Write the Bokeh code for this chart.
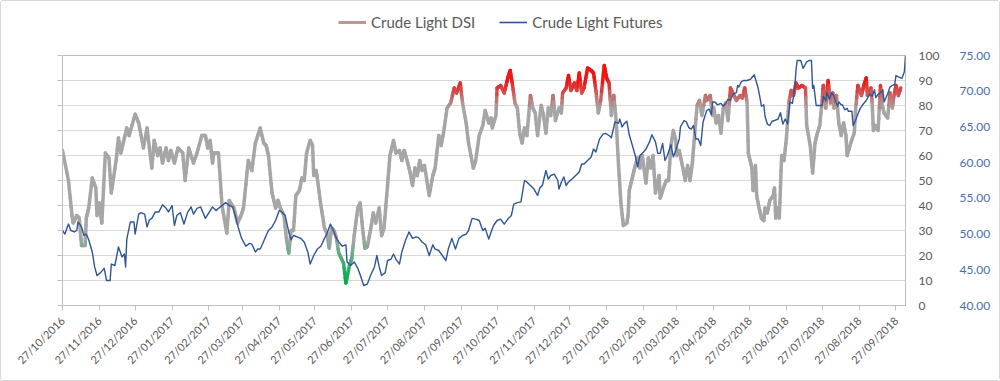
import numpy as np
from datetime import datetime
from math import pi
from bokeh.plotting import figure
from bokeh.layouts import column
from bokeh.models import (LinearAxis, Range1d, FixedTicker, PrintfTickFormatter,
                          Legend, LegendItem, ColumnDataSource)
from bokeh.embed import file_html
from bokeh.resources import INLINE

# ---------------- data ----------------
start_date = "27/10/2016"
end_day = 708  # right edge of the chart, days after start_date

tick_labels = ["27/10/2016", "27/11/2016", "27/12/2016", "27/01/2017", "27/02/2017",
               "27/03/2017", "27/04/2017", "27/05/2017", "27/06/2017", "27/07/2017",
               "27/08/2017", "27/09/2017", "27/10/2017", "27/11/2017", "27/12/2017",
               "27/01/2018", "27/02/2018", "27/03/2018", "27/04/2018", "27/05/2018",
               "27/06/2018", "27/07/2018", "27/08/2018", "27/09/2018"]

dsi_ticks = [0, 10, 20, 30, 40, 50, 60, 70, 80, 90, 100]
fut_ticks = [40.0, 45.0, 50.0, 55.0, 60.0, 65.0, 70.0, 75.0]

series_names = ["Crude Light DSI", "Crude Light Futures"]

# Crude Light DSI (days after start_date, value)
dsi_days = [
    0, 5, 8, 9, 12, 14, 16, 19, 20, 22,
    25, 28, 29, 31, 33, 36, 39, 41, 45, 47,
    49, 52, 54, 56, 61, 64, 68, 71, 75, 77,
    80, 82, 84, 87, 89, 91, 94, 97, 101, 103,
    106, 110, 113, 117, 120, 122, 124, 126, 127, 131,
    134, 138, 140, 144, 147, 150, 152, 156, 159, 162,
    166, 169, 171, 173, 176, 179, 181, 183, 186, 188,
    190, 192, 194, 196, 199, 201, 203, 205, 208, 210,
    211, 213, 214, 217, 220, 222, 224, 226, 228, 230,
    232, 236, 238, 241, 243, 245, 248, 250, 252, 254,
    256, 259, 261, 263, 266, 268, 270, 273, 275, 278,
    280, 283, 285, 287, 290, 292, 294, 296, 298, 300,
    302, 304, 308, 311, 313, 316, 318, 320, 323, 326,
    329, 331, 334, 336, 339, 341, 345, 347, 350, 353,
    355, 358, 360, 361, 364, 365, 368, 371, 374, 376,
    378, 380, 382, 384, 386, 388, 390, 393, 395, 397,
    399, 402, 404, 406, 408, 410, 412, 414, 417, 419,
    420, 423, 425, 427, 430, 432, 434, 436, 438, 441,
    444, 446, 448, 450, 452, 455, 457, 459, 461, 463,
    465, 467, 469, 471, 474, 475, 476, 479, 481, 483,
    485, 487, 490, 492, 494, 496, 498, 501, 502, 504,
    507, 509, 511, 513, 515, 516, 518, 521, 523, 525,
    527, 529, 531, 533, 535, 537, 540, 541, 544, 546,
    547, 549, 551, 553, 555, 557, 559, 561, 564, 566,
    569, 571, 573, 575, 576, 579, 580, 582, 583, 585,
    587, 589, 590, 592, 594, 597, 598, 599, 601, 602,
    604, 606, 608, 610, 612, 614, 616, 618, 621, 624,
    625, 628, 630, 632, 634, 636, 638, 639, 641, 643,
    645, 647, 648, 650, 652, 654, 656, 658, 659, 662,
    665, 666, 668, 671, 673, 675, 676, 679, 680, 681,
    683, 685, 687, 688, 690, 693, 695, 697, 698, 700,
    702, 704]
dsi_values = [
    62, 50, 36, 33, 36, 35, 24, 24, 35, 39,
    51, 47, 36, 41, 33, 61, 59, 45, 58, 67,
    61, 67, 71, 68, 76.5, 73, 63, 71, 55, 66,
    60, 63, 57, 63, 58, 62, 57, 63, 61, 50,
    63, 57, 61, 68, 68, 63, 66, 57, 61, 61,
    40, 29, 42, 39, 33, 36, 39, 58, 54, 65,
    71, 65, 64, 60, 45, 39, 42, 39, 36, 27,
    21, 30, 30, 44, 46, 51, 50, 61, 66, 64,
    52, 54, 51, 40, 31, 29, 23, 31, 30, 27,
    21, 17, 9, 16, 19, 28, 39, 41, 31, 23,
    23.5, 31, 37, 33, 39, 28, 31, 48, 60, 66,
    61, 62, 58, 62, 57, 53, 48, 55, 52, 58,
    54, 56, 44, 52, 55, 68, 64, 69, 79, 81,
    87, 85, 89, 81, 73, 65, 55, 58, 68, 72,
    78, 73, 75, 71, 76, 87, 88, 85, 91, 94,
    88, 81, 79, 69, 65, 71, 68, 84, 79, 77,
    68, 80, 76, 69, 79, 76, 84, 74, 79, 77,
    85, 87, 92, 86, 89, 86, 93, 85, 87, 95,
    94, 93, 86, 77, 82, 96, 91, 89, 76, 84,
    74, 56, 41, 32, 33, 36, 46, 52, 56, 59,
    55, 60, 49, 59, 55, 60, 45, 52, 43, 46,
    50, 50, 64, 70, 66, 60, 62, 55, 50, 56,
    50, 57, 69, 80, 82, 76, 84, 82, 84, 76,
    79, 73, 76, 69, 79, 81, 74, 87, 84, 82,
    84, 83, 87, 81, 61, 55, 46, 56, 44, 39,
    35, 34, 39, 37, 42, 44, 47, 35, 39, 35,
    60, 58, 67, 81, 86, 84, 89, 87, 88, 87,
    72, 64, 53, 65, 69, 72, 82, 88, 79, 90,
    81, 85, 79, 84, 73, 68, 73, 68, 60, 65,
    69, 78, 88, 84, 88, 91, 84, 87, 81, 70,
    72, 70, 88, 81, 77, 75, 85, 79, 83, 88,
    84, 87]

# Crude Light Futures (days after start_date, price)
fut_days = [
    0, 2, 5, 7, 10, 12, 13, 16, 18, 20,
    22, 25, 27, 29, 32, 35, 37, 40, 41, 44,
    47, 50, 52, 53, 54, 57, 60, 61, 64, 66,
    69, 71, 73, 75, 78, 81, 84, 87, 89, 92,
    94, 96, 99, 102, 105, 108, 110, 113, 116, 118,
    120, 123, 126, 129, 131, 134, 137, 140, 143, 145,
    148, 150, 152, 154, 157, 159, 162, 164, 166, 168,
    171, 173, 176, 179, 182, 184, 187, 190, 192, 194,
    197, 200, 203, 206, 208, 211, 214, 217, 220, 222,
    225, 228, 230, 232, 235, 238, 239, 242, 245, 248,
    250, 253, 256, 259, 262, 264, 266, 268, 271, 273,
    276, 278, 280, 283, 285, 288, 291, 294, 297, 299,
    302, 305, 308, 311, 313, 316, 319, 322, 324, 327,
    330, 333, 336, 339, 341, 344, 347, 350, 353, 355,
    358, 360, 362, 365, 368, 371, 374, 377, 379, 382,
    385, 388, 390, 393, 396, 399, 401, 403, 406, 408,
    410, 413, 416, 417, 419, 421, 423, 425, 428, 431,
    434, 436, 438, 441, 444, 446, 448, 451, 454, 456,
    459, 461, 464, 467, 468, 470, 472, 474, 476, 479,
    481, 483, 485, 488, 490, 493, 495, 498, 500, 502,
    504, 506, 508, 511, 513, 515, 518, 519, 522, 524,
    526, 528, 530, 532, 534, 536, 538, 541, 543, 545,
    546, 548, 550, 553, 555, 557, 559, 561, 563, 566,
    567, 568, 570, 572, 575, 578, 581, 582, 584, 586,
    587, 589, 590, 592, 594, 596, 598, 601, 603, 605,
    607, 609, 611, 613, 615, 616, 617, 620, 622, 625,
    627, 629, 630, 631, 633, 635, 638, 639, 641, 642,
    644, 646, 648, 649, 651, 652, 654, 655, 657, 659,
    660, 663, 664, 666, 668, 670, 672, 675, 678, 680,
    682, 683, 685, 687, 689, 690, 693, 695, 697, 699,
    700, 702, 705, 707, 708]
fut_values = [
    50.5, 50.0, 51.4, 50.5, 50.3, 50.5, 51.7, 51.0, 49.8, 50.0,
    49.2, 47.5, 45.4, 44.2, 44.6, 45.2, 43.5, 43.5, 45.8, 45.6,
    48.2, 46.8, 47.2, 45.4, 49.3, 51.7, 51.7, 50.0, 52.8, 53.0,
    52.8, 51.0, 52.0, 52.2, 53.1, 53.1, 54.1, 53.6, 53.1, 54.0,
    51.2, 52.6, 53.0, 51.4, 53.0, 53.8, 52.8, 53.6, 53.8, 53.0,
    52.2, 53.0, 53.8, 53.3, 53.6, 54.0, 54.4, 54.0, 53.8, 52.6,
    50.7, 49.6, 48.9, 48.3, 48.7, 48.6, 47.5, 47.9, 47.9, 48.6,
    49.8, 50.5, 51.0, 51.9, 53.3, 53.1, 52.6, 50.3, 49.2, 49.8,
    49.6, 49.4, 48.9, 47.5, 45.8, 47.0, 47.9, 48.3, 49.4, 50.0,
    51.4, 50.3, 49.4, 48.9, 48.3, 48.5, 46.1, 45.6, 46.1, 45.2,
    44.3, 42.8, 43.0, 44.3, 45.4, 47.0, 45.4, 44.2, 44.6, 46.3,
    46.5, 47.2, 46.5, 45.8, 47.5, 49.1, 50.3, 49.4, 49.6, 49.5,
    48.9, 48.5, 47.0, 48.5, 47.9, 47.7, 47.0, 46.3, 47.9, 49.4,
    47.9, 49.4, 49.8, 50.0, 50.5, 52.2, 52.1, 51.9, 50.5, 50.8,
    49.3, 50.3, 51.2, 51.9, 52.1, 51.4, 52.1, 52.6, 54.2, 54.4,
    54.5, 57.5, 57.3, 56.8, 56.3, 55.4, 56.5, 56.8, 58.9, 57.7,
    58.2, 58.4, 57.5, 56.3, 57.3, 58.0, 56.8, 57.3, 57.7, 58.2,
    58.7, 59.8, 59.8, 60.3, 60.8, 61.9, 61.5, 63.3, 64.0, 64.1,
    63.8, 63.5, 65.7, 65.5, 66.1, 65.0, 65.5, 65.8, 63.9, 62.2,
    61.0, 59.4, 61.0, 61.5, 61.9, 62.9, 63.9, 62.9, 61.3, 61.3,
    62.7, 60.3, 61.0, 62.5, 60.8, 61.7, 63.3, 65.0, 65.9, 65.7,
    64.9, 64.7, 65.2, 63.3, 63.3, 62.4, 65.7, 67.3, 67.5, 66.7,
    68.5, 68.5, 68.1, 68.3, 67.9, 68.3, 68.9, 68.7, 69.6, 69.8,
    70.8, 70.6, 71.3, 71.5, 71.5, 71.7, 72.3, 71.7, 70.6, 68.9,
    67.9, 68.1, 66.5, 65.4, 65.2, 65.8, 65.9, 66.1, 67.0, 65.4,
    66.1, 65.4, 68.5, 68.3, 70.4, 72.9, 74.3, 74.3, 73.2, 74.1,
    74.3, 74.3, 70.4, 70.8, 68.0, 68.0, 68.0, 69.3, 68.7, 69.8,
    68.9, 69.8, 69.3, 68.7, 67.9, 68.5, 68.1, 68.1, 67.4, 67.6,
    67.2, 67.2, 65.2, 65.9, 66.8, 67.6, 68.1, 68.7, 69.6, 69.3,
    70.2, 69.1, 69.6, 69.8, 70.2, 68.5, 69.6, 70.6, 70.8, 71.0,
    72.2, 72.0, 71.8, 72.7, 75.0]

# ---------------- styling helpers ----------------
FONT = "Lato"
TXT = "#595959"
AXC = "#BFBFBF"
GRID = "#D9D9D9"
BLUE = "#2F5597"
BLUE_TXT = "#4A6EA8"
GRAY = np.array([166, 166, 166])
RED = np.array([240, 20, 20])
GREEN = np.array([0, 176, 80])
TOTAL_W = 998
HDR_H = 32


def dsi_color(v):
    c = GRAY.astype(float)
    if v > 79:
        t = min((v - 79) / 11.0, 1.0)
        c = GRAY * (1 - t) + RED * t
    elif v < 27:
        t = min((27 - v) / 17.0, 1.0)
        c = GRAY * (1 - t) + GREEN * t
    return "#%02x%02x%02x" % tuple(int(round(x)) for x in c)


t0 = datetime.strptime(start_date, "%d/%m/%Y")
tick_days = [(datetime.strptime(s, "%d/%m/%Y") - t0).days for s in tick_labels]

# DSI drawn as short segments, coloured by level (gradient line)
xd = np.array(dsi_days, dtype=float)
yd = np.array(dsi_values, dtype=float)
x0, y0, x1, y1, cols = [], [], [], [], []
N_SUB = 4
for i in range(len(xd) - 1):
    for k in range(N_SUB):
        a = k / N_SUB
        b = (k + 1) / N_SUB
        xa = xd[i] + (xd[i + 1] - xd[i]) * a
        xb = xd[i] + (xd[i + 1] - xd[i]) * b
        ya = yd[i] + (yd[i + 1] - yd[i]) * a
        yb = yd[i] + (yd[i + 1] - yd[i]) * b
        x0.append(xa); x1.append(xb); y0.append(ya); y1.append(yb)
        cols.append(dsi_color((ya + yb) / 2))
seg_src = ColumnDataSource(dict(x0=x0, y0=y0, x1=x1, y1=y1, c=cols))

# ---------------- header with legend ----------------
hdr = figure(width=TOTAL_W, height=HDR_H, output_backend="svg", toolbar_location=None,
             x_range=Range1d(0, 1), y_range=Range1d(0, 1),
             x_axis_location=None, y_axis_location=None,
             min_border=0, min_border_left=0, min_border_right=0,
             min_border_top=0, min_border_bottom=0)
hdr.grid.grid_line_color = None
hdr.outline_line_color = None
hdr.background_fill_color = "white"
hdr.border_fill_color = "white"
# off-range dummy renderers: only their legend glyphs are visible
l1 = hdr.line([5, 6], [5, 6], line_color="#C09692", line_width=3)
l2 = hdr.line([5, 6], [5, 6], line_color=BLUE, line_width=1.6)
legend = Legend(items=[LegendItem(label=series_names[0], renderers=[l1]),
                       LegendItem(label=series_names[1], renderers=[l2])],
                orientation="horizontal", location=(276, 1))
legend.border_line_color = None
legend.background_fill_alpha = 0
legend.padding = 0
legend.margin = 0
legend.spacing = 24
legend.label_standoff = 5
legend.glyph_width = 28
legend.glyph_height = 20
legend.label_text_font = FONT
legend.label_text_font_size = "15px"
legend.label_text_color = TXT
hdr.add_layout(legend)

# ---------------- main figure ----------------
p = figure(frame_width=843, frame_height=250, output_backend="svg",
           toolbar_location=None,
           x_range=Range1d(0, end_day), y_range=Range1d(0, 100),
           min_border_left=61, min_border_right=TOTAL_W - 61 - 843,
           min_border_top=54 - HDR_H, min_border_bottom=75)
p.extra_y_ranges = {"fut": Range1d(40, 75)}
p.background_fill_color = "white"
p.border_fill_color = "white"
p.outline_line_color = AXC
p.outline_line_width = 1

p.xgrid.grid_line_color = None
p.ygrid.ticker = FixedTicker(ticks=dsi_ticks)
p.ygrid.grid_line_color = GRID
p.ygrid.grid_line_width = 1

# left axis: line + ticks, no labels
la = p.left[0]
la.ticker = FixedTicker(ticks=dsi_ticks)
la.axis_line_color = AXC
la.major_tick_line_color = AXC
la.major_tick_out = 5
la.major_tick_in = 0
la.minor_tick_line_color = None
la.major_label_text_font_size = "0px"
la.major_label_text_color = None

# bottom axis
xa_ = p.below[0]
xa_.ticker = FixedTicker(ticks=tick_days)
xa_.major_label_overrides = {d: s for d, s in zip(tick_days, tick_labels)}
xa_.major_label_orientation = pi / 4
xa_.axis_line_color = AXC
xa_.major_tick_line_color = AXC
xa_.major_tick_out = 5
xa_.major_tick_in = 0
xa_.minor_tick_line_color = None
xa_.major_label_text_font = FONT
xa_.major_label_text_font_size = "11px"
xa_.major_label_text_color = TXT
xa_.major_label_standoff = 8

# right axes
ax_dsi = LinearAxis(ticker=FixedTicker(ticks=dsi_ticks))
ax_fut = LinearAxis(y_range_name="fut", ticker=FixedTicker(ticks=fut_ticks),
                    formatter=PrintfTickFormatter(format="%.2f"))
for ax, col, so in ((ax_dsi, TXT, 13), (ax_fut, BLUE_TXT, 17)):
    ax.axis_line_color = None
    ax.major_tick_line_color = None
    ax.minor_tick_line_color = None
    ax.major_tick_out = 0
    ax.major_tick_in = 0
    ax.major_label_text_font = FONT
    ax.major_label_text_font_size = "12px"
    ax.major_label_text_color = col
    ax.major_label_standoff = so
p.add_layout(ax_dsi, "right")
p.add_layout(ax_fut, "right")

# series
p.segment("x0", "y0", "x1", "y1", source=seg_src, line_color="c",
          line_width=3.5, line_cap="round")
p.line(fut_days, fut_values, y_range_name="fut", line_color=BLUE,
       line_width=1.4, line_join="round")

layout = column(hdr, p, spacing=0)
layout.styles = {"border": "1px solid #D9D9D9", "border-radius": "3px"}
open("out.html", "w").write(file_html(layout, INLINE))
